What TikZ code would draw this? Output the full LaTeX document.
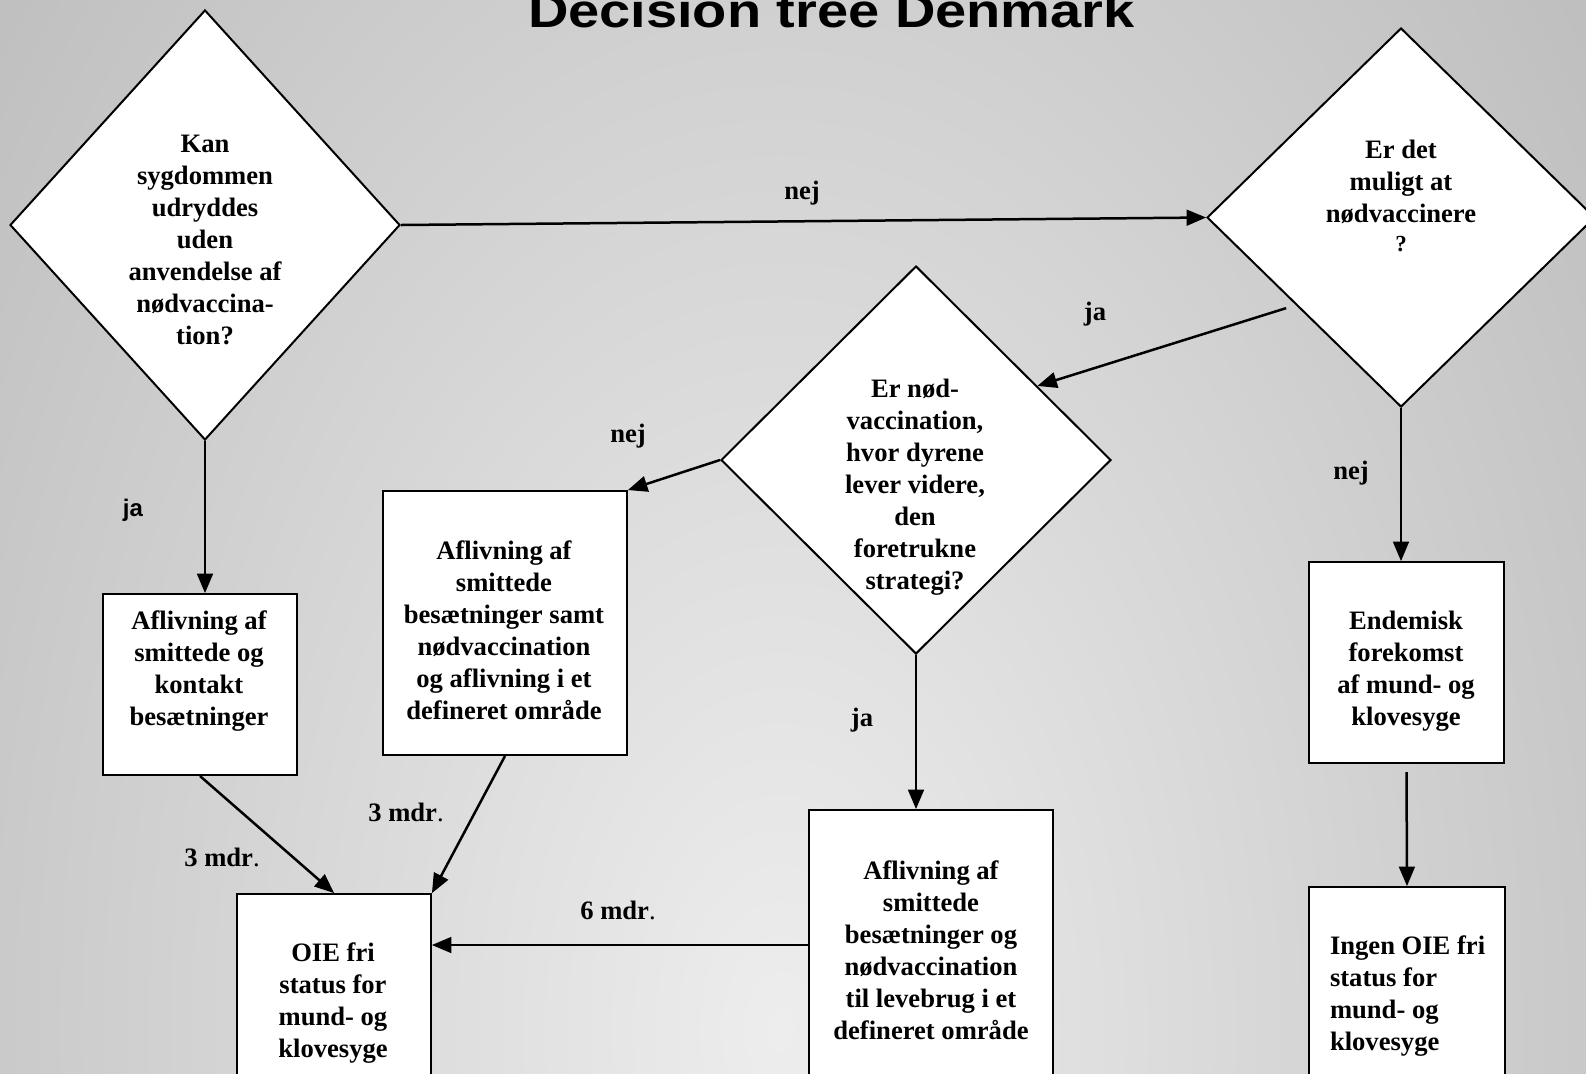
\documentclass[tikz,border=0pt]{standalone}
\usepackage{fontspec}
\setmainfont{Liberation Serif}
\newfontfamily\headfont{Liberation Sans}
\usetikzlibrary{arrows,shapes.geometric,calc}
\definecolor{bginner}{gray}{0.93}
\definecolor{bgouter}{gray}{0.45}

\begin{document}
\begin{tikzpicture}[x=.5pt,y=-.5pt,line width=1pt,
    ask/.style={diamond,draw,fill=white,inner sep=0pt},
    box/.style={draw,fill=white,inner sep=0pt},
    txt/.style={align=center,inner sep=0pt,font=\bfseries\fontsize{13.3}{16}\selectfont},
    arr/.style={line width=1.25pt,-{triangle 45}}]
  \clip (0,0) rectangle (1586,1073);
  \shade[inner color=bginner,outer color=bgouter] (780,1030) ellipse (1350pt and 2170pt);

  \node[anchor=base west,inner sep=0pt,font=\headfont\bfseries\fontsize{28}{30}\selectfont]
    (title) at (527,27) {\scalebox{1}[.85]{Decision tree Denmark}};

  % questions
  \node[ask,minimum width=195pt,minimum height=215pt] (q1) at (205,225) {};
  \node[txt] (q1t) at (205,240) {Kan\\sygdommen\\udryddes\\uden\\anvendelse af\\nødvaccina-\\tion?};
  \node[ask,minimum width=194pt,minimum height=189.5pt] (q2) at (1401,217.5) {};
  \node[txt] (q2t) at (1401,196) {Er det\\muligt at\\nødvaccinere\\[-1.5pt]{\fontsize{11.5}{12}\selectfont ?}};
  \node[ask,minimum width=195pt,minimum height=194pt] (q3) at (916,460) {};
  \node[txt] (q3t) at (915,487) {Er nød-\\vaccination,\\hvor dyrene\\lever videre,\\den\\foretrukne\\strategi?};

  % outcomes
  \node[box,minimum width=97pt,minimum height=90.5pt] (a) at (200,684.5) {};
  \node[txt] (at) at (199,671) {Aflivning af\\smittede og\\kontakt\\besætninger};
  \node[box,minimum width=122pt,minimum height=132pt] (b) at (505,623) {};
  \node[txt] (bt) at (504,630) {Aflivning af\\smittede\\besætninger samt\\nødvaccination\\og aflivning i et\\defineret område};
  \node[box,minimum width=97pt,minimum height=103pt] (c) at (334,997) {};
  \node[txt] (ct) at (333,1003) {OIE fri\\status for\\mund- og\\klovesyge};
  \node[box,minimum width=122pt,minimum height=135pt] (d) at (931,945) {};
  \node[txt] (dt) at (931,950) {Aflivning af\\smittede\\besætninger og\\nødvaccination\\til levebrug i et\\defineret område};
  \node[box,minimum width=97.5pt,minimum height=100.5pt] (e) at (1406.5,662.5) {};
  \node[txt] (et) at (1406,671) {Endemisk\\forekomst\\af mund- og\\klovesyge};
  \node[box,minimum width=98pt,minimum height=106.5pt] (f) at (1407,993.5) {};
  \node[txt,align=left,anchor=west] (ft) at (1329,996.5) {Ingen OIE fri\\status for\\mund- og\\klovesyge};

  % connectors
  \draw[arr] (q1.east) -- (q2.west);
  \draw[arr,shorten <=5pt] ($(q2.west)!.46!(q2.south)$) -- ($(q3.north)!.62!(q3.east)$);
  \draw[arr] (q3.west) -- (b.north east);
  \draw[arr] (q1.south) -- (q1.south |- a.north);
  \draw[arr] (a.south) -- (c.north);
  \draw[arr] (b.south) -- (c.north east);
  \draw[arr] (q3.south) -- (q3.south |- d.north);
  \draw[arr] (d.west) -- (d.west -| c.east);
  \draw[arr] (q2.south) -- (q2.south |- e.north);
  \draw[arr,shorten <=4pt] (e.south) -- (f.north);

  % answers
  \node[txt] (nej1) at (802,193) {nej};
  \node[txt] (ja1) at (1095,314) {ja};
  \node[txt] (nej2) at (628,436) {nej};
  \node[txt,font=\headfont\bfseries\fontsize{12}{14}\selectfont] (ja2) at (133,510) {ja};
  \node[txt] (nej3) at (1351,473) {nej};
  \node[txt] (ja3) at (862,720) {ja};
  \node[txt] (mdr1) at (222,857) {3 mdr\textmd{.}};
  \node[txt] (mdr2) at (406,812) {3 mdr\textmd{.}};
  \node[txt] (mdr3) at (618,910) {6 mdr\textmd{.}};
\end{tikzpicture}
\end{document}
